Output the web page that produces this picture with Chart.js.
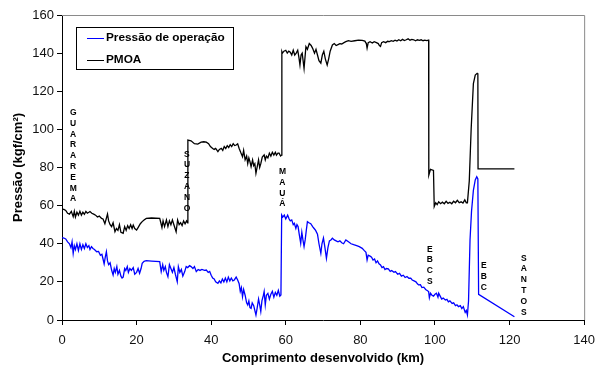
<!DOCTYPE html>
<html>
<head>
<meta charset="utf-8">
<script src="https://cdn.jsdelivr.net/npm/chart.js@4.4.1/dist/chart.umd.min.js"></script>
<style>
  body { margin: 0; background: #fff; }
  #wrap { width: 603px; height: 367px; }
</style>
</head>
<body>
<div id="wrap"><canvas id="myChart" width="603" height="367"></canvas></div>
<script>
// km along the pipeline and pressures (kgf/cm2)
const kmOperacao = [0,0.5,1,1.5,2,2.4,2.7,3,3.3,3.6,4,4.4,4.8,5.2,5.6,6,6.4,6.8,7.2,7.5,7.9,8.3,8.7,9.3,9.8,10.3,10.7,11,11.3,11.6,11.9,12.2,12.5,12.9,13.3,13.7,14,14.3,14.7,15,15.4,15.8,16.1,16.4,16.8,17.1,17.5,17.8,18.2,18.6,19.1,19.5,20,20.4,20.8,21.2,21.5,22,22.6,24,26.2,26.6,27,27.3,27.7,28,28.4,28.8,29.2,29.6,30,30.4,30.9,31.2,31.6,32,32.4,32.9,33.3,33.7,34.2,34.6,35.1,35.5,36,36.5,37,37.5,38.2,38.7,39.2,39.6,40,40.4,40.8,41.2,41.8,42.2,42.6,43,43.4,43.8,44.2,44.6,45,45.4,45.8,46.2,46.7,47.1,47.5,47.8,48.1,48.4,48.7,49.1,49.5,49.8,50.1,50.4,50.7,51,51.4,51.7,52,52.3,52.7,53,53.3,53.6,54,54.2,54.5,54.8,55.2,55.6,56,56.4,56.8,57.2,57.6,58,58.4,58.7,58.9,59.2,59.6,60,60.5,60.9,61.2,61.6,62,62.3,62.7,63,63.3,63.6,64,64.3,64.6,64.9,65.2,65.5,65.8,66.2,66.7,67.2,67.6,68,68.5,68.9,69.4,69.7,70.1,70.5,70.9,71.3,71.7,72.1,72.5,73,73.5,74,74.5,75,75.5,76.1,76.8,77.5,78.2,79,79.7,80.5,81,81.5,81.8,82.1,82.6,83,83.4,83.8,84.2,84.6,85,85.4,85.8,86.2,86.6,87,87.5,88,88.4,89,89.4,90,90.5,91,91.5,92,92.5,93,93.5,93.9,94.4,94.9,95.3,95.6,96.1,96.5,97,97.5,97.9,98.3,98.5,98.8,99.2,99.6,100,100.4,100.8,101,101.4,101.8,102.2,102.8,103.2,103.6,104,104.6,105,105.5,105.9,106.3,106.8,107.2,107.6,108.1,108.4,108.7,109,109.4,109.8,110.3,110.8,111.2,111.5,111.7,121.3];
const pressaoOperacao = [43.2,43,42.5,41,40,38,41,35,39,37,40,36.5,40,37,39.5,37.5,40,38,39,37,38.5,37.5,37,35.8,36,34,34.5,32,29.4,33,35.8,31,29,30,26.2,23.6,27,25,28,24,26,23,22,22.5,27,26,28,25,27,26,27.5,24,25,27,24.5,27,29.7,30.8,31.1,30.9,30.6,25.4,29,26,28,25,22.7,29,27,25,27.5,24,20.1,28,25,26.5,23,25.4,28,27.5,28.5,28,27,28,25.4,26.5,26,26.5,26,26.2,25,25.5,23.5,22,21.5,20,19.2,20.5,19.5,21.5,20,22,20,22.5,20.5,22,20.5,21,22.5,21,19,15,17,12.2,16,13,9,7.9,10,6.5,6.1,9,7.5,5,2.6,6,11,8,4.5,10,13,14.9,8,13,14,11,13.5,15,12,14.5,13,15.5,12.5,13.1,55.1,54,55,53,55,53,52,52.5,50,50.7,48,50,49,45,40.2,46,42,38.5,42,47,51.6,51,50.5,49,48,47,45,40,35,40,43,38,32.4,38,41.5,42,42.9,42,41.5,41,41.5,40.5,40,42,41,40,39.5,39,38.5,37.6,36.5,35.5,31.5,34,33.5,33,31.5,32,30,31,29.5,28.9,27.5,28,26.5,27,26.8,25.5,26,25,25.4,24,24.5,23,23.5,22.3,22.8,21.9,22,21,20.5,20,19,18.4,18.5,17,17.2,16,15.5,14.9,11.7,14,13,12.5,13.5,14,12,14,12.5,11,11.5,10.5,10.8,9.5,10,8.7,9,7.5,8,7,7.5,6,7,4,5,2.6,10,42,57,68,73.5,75.2,74,13.5,1.7];

const kmPmoa = [0,0.5,1,1.5,2,2.5,3,3.3,3.6,4,4.4,4.8,5.2,5.6,6,6.4,6.8,7.2,7.5,8,8.5,9,9.5,10,10.6,11,11.5,12.2,12.5,12.9,13.3,13.7,14.2,14.6,15,15.4,15.8,16.4,16.8,17.2,17.6,18,18.4,18.8,19.1,19.5,20,20.4,21,21.5,22,22.6,24,26.2,26.5,26.8,27.1,27.5,28,28.4,28.8,29.2,29.6,30,30.6,31,31.4,31.8,32.2,32.6,33,33.4,33.7,33.75,34.6,35.5,36.4,37.3,38,38.7,39.3,39.8,40.4,40.8,41.2,41.8,42.2,42.7,43.1,43.5,43.9,44.3,44.7,45.1,45.5,45.9,46.3,46.7,47.1,47.5,47.9,48.4,48.7,49.1,49.5,49.8,50.1,50.4,50.7,51.1,51.4,51.7,52,52.4,52.7,53,53.3,53.7,54.2,54.5,54.8,55.2,55.6,56,56.4,56.8,57.2,57.5,57.9,58.2,58.6,58.9,58.95,59.1,59.5,60,60.4,60.8,61.2,61.6,62,62.4,62.8,63.2,63.5,63.8,64.1,64.4,64.9,65.4,65.8,66.3,66.8,67.2,67.7,68.1,68.5,68.9,69.4,69.8,70.2,70.6,71.1,71.5,71.9,72.5,73,73.5,74,74.5,75,75.6,76.1,76.8,77.5,78.5,79.5,80.5,81.2,81.6,81.8,82.1,82.6,83.2,83.7,84.3,84.8,85.1,85.4,85.7,86.2,86.8,87.3,87.8,88.3,88.8,89.3,89.8,90.3,90.8,91.3,91.8,92.3,92.8,93.3,93.8,94.3,94.8,95.3,95.8,96.3,96.8,97.3,97.8,98.3,98.35,98.8,99.6,99.8,100.2,100.6,101,101.5,102,102.5,103,103.5,104,104.5,105,105.5,106,106.5,107,107.5,108,108.4,108.7,109.2,109.7,110.3,110.8,111.3,111.5,111.55,121.3];
const pmoa = [58.2,58,57.5,56,55.5,57,54.2,57,54,56.5,55,57,55,56.5,55.5,57,56,56.5,56.9,56,55.5,55,54,54.5,53.3,53,50.5,55.6,52,50,49,51,46.3,48,47,50,46,45.5,49,47,49.5,48,50,48,49.8,48,47.2,48.5,50.5,51.6,52.5,53.3,53.5,53.3,51,48.5,52,49,52.5,49,52,50,52.5,50,46.3,52.5,50,51,49.5,52,50.5,52,51,94.4,94,92.5,92.3,93.3,93.5,93.3,92.5,91,90,89.5,90,88.3,89.5,90,89,91,90,91.5,90.5,92,91,92.5,91.5,91.8,92.4,90,88,85.7,89,84,86,82,85,83,80.4,84,81,82,77,81,84,80,82,85.5,86.6,84,86,85,87.5,86,88,86.5,88,86.5,87.5,87.5,86,86.5,140.8,140,141,141.5,140,141,140.5,139,141.5,139,140,141.5,138,133.8,139,140,132,143.4,142,145,144,142.5,140,142,139,136,134.7,139,141,137,133.8,137,141,144.3,145,144,144.5,145,144.8,145.5,146,146.5,146.2,146.5,146.8,146.7,146.3,145,142.6,145.5,146,145.3,146,145.5,145,144,143.5,145.5,146,145.5,146.2,146,146.5,146.2,146.8,146.3,147,146.5,147.2,146.6,147,147.5,146.8,147.2,147,146.5,147,146.7,147,146.5,146.8,146.6,146.8,76,79,78.5,59.5,61.5,60.5,62,61,61.8,61,62.3,61.2,61.8,61,62.3,61.5,62.8,61.5,62,61.3,63,61.5,61.5,73,100,124,128.5,129.4,129.5,79.3,79.3];

// station names written vertically inside the plot
const stationNames = ['GUARAREMA', 'SUZANO', 'MAUÁ', 'EBCS', 'EBC', 'SANTOS'];
const stationKm = [3, 33.5, 59.1, 98.6, 113.1, 123.8];
const stationTop = [108.8, 86.9, 77.8, 37.1, 28.3, 32.4];

const xTicks = [0, 20, 40, 60, 80, 100, 120, 140];
const yTicks = [0, 20, 40, 60, 80, 100, 120, 140, 160];

const seriesLabels = ['Pressão de operação', 'PMOA'];
const seriesColors = ['#0000ff', '#000000'];

const toPoints = (xs, ys) => xs.map((x, i) => ({ x: x, y: ys[i] }));

const FONT = "'Liberation Sans', Arial, sans-serif";

const plotFrame = {
    id: 'plotFrame',
    beforeDatasetsDraw(chart) {
        const { ctx, chartArea: a } = chart;
        ctx.save();
        ctx.strokeStyle = '#8a8a8a';
        ctx.lineWidth = 1;
        ctx.beginPath();
        ctx.moveTo(a.left, a.top + 0.5);
        ctx.lineTo(a.right + 0.5, a.top + 0.5);
        ctx.lineTo(a.right + 0.5, a.bottom);
        ctx.stroke();
        ctx.restore();
    }
};

const stationLabels = {
    id: 'stationLabels',
    afterDatasetsDraw(chart) {
        const { ctx, scales } = chart;
        ctx.save();
        ctx.fillStyle = '#000';
        ctx.font = 'bold 8.5px ' + FONT;
        ctx.textAlign = 'center';
        ctx.textBaseline = 'middle';
        stationNames.forEach((name, i) => {
            const x = scales.x.getPixelForValue(stationKm[i]);
            const y0 = scales.y.getPixelForValue(stationTop[i]);
            Array.from(name).forEach((ch, j) => {
                ctx.fillText(ch, x, y0 + j * 10.8);
            });
        });
        ctx.restore();
    }
};

const boxLegend = {
    id: 'boxLegend',
    afterDraw(chart) {
        const { ctx } = chart;
        ctx.save();
        ctx.fillStyle = '#fff';
        ctx.fillRect(76, 27, 157, 42);
        ctx.strokeStyle = '#000';
        ctx.lineWidth = 1;
        ctx.strokeRect(76.5, 27.5, 157, 42);
        ctx.font = 'bold 11.8px ' + FONT;
        ctx.textBaseline = 'middle';
        ctx.textAlign = 'left';
        chart.data.datasets.forEach((ds, i) => {
            const y = 38 + i * 21.5;
            ctx.strokeStyle = ds.borderColor;
            ctx.beginPath();
            ctx.moveTo(87, Math.round(y) + 0.5);
            ctx.lineTo(104, Math.round(y) + 0.5);
            ctx.stroke();
            ctx.fillStyle = '#000';
            ctx.fillText(ds.label, 106, y);
        });
        ctx.restore();
    }
};

new Chart(document.getElementById('myChart'), {
    type: 'line',
    data: {
        datasets: [
            {
                label: seriesLabels[0],
                data: toPoints(kmOperacao, pressaoOperacao),
                borderColor: seriesColors[0],
                borderWidth: 1.3,
                pointRadius: 0,
                tension: 0
            },
            {
                label: seriesLabels[1],
                data: toPoints(kmPmoa, pmoa),
                borderColor: seriesColors[1],
                borderWidth: 1.3,
                pointRadius: 0,
                tension: 0
            }
        ]
    },
    options: {
        responsive: false,
        animation: false,
        layout: { padding: { left: 0, top: 15, right: 17, bottom: 0 } },
        plugins: {
            legend: { display: false },
            tooltip: { enabled: false }
        },
        scales: {
            x: {
                type: 'linear',
                min: 0,
                max: 140,
                afterBuildTicks: (s) => { s.ticks = xTicks.map(v => ({ value: v })); },
                afterFit: (s) => { s.height = 47; },
                grid: { drawOnChartArea: false, drawTicks: true, tickLength: 5, color: '#000' },
                border: { color: '#000', width: 1 },
                ticks: { color: '#111', font: { family: FONT, size: 13 }, padding: 8, maxRotation: 0, autoSkip: false },
                title: {
                    display: true,
                    text: 'Comprimento desenvolvido (km)',
                    color: '#000',
                    font: { family: FONT, size: 13, weight: 'bold' },
                    padding: { top: 0, bottom: 1 }
                }
            },
            y: {
                min: 0,
                max: 160,
                afterBuildTicks: (s) => { s.ticks = yTicks.map(v => ({ value: v })); },
                afterFit: (s) => { s.width = 62; },
                grid: { drawOnChartArea: false, drawTicks: true, tickLength: 5, color: '#000' },
                border: { color: '#000', width: 1 },
                ticks: { color: '#111', font: { family: FONT, size: 13 }, padding: 3 },
                title: {
                    display: true,
                    text: 'Pressão (kgf/cm²)',
                    color: '#000',
                    font: { family: FONT, size: 13, weight: 'bold' },
                    padding: { top: 11, bottom: 0 }
                }
            }
        }
    },
    plugins: [plotFrame, stationLabels, boxLegend]
});
</script>
</body>
</html>
